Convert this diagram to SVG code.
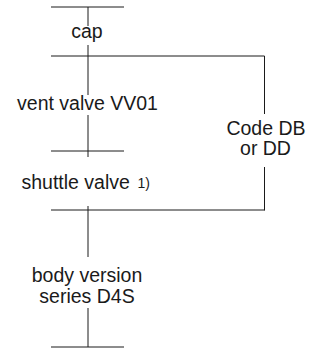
<svg xmlns="http://www.w3.org/2000/svg" width="323" height="348" viewBox="0 0 323 348">
<style>
.t{font-family:"Liberation Sans",Arial,sans-serif;font-size:19.5px;fill:#1a1a1a;text-anchor:middle}
.s{font-family:"Liberation Sans",Arial,sans-serif;font-size:14px;fill:#1a1a1a}
.c{stroke:#1a1a1a;stroke-width:1;fill:none}
</style>
<rect width="323" height="348" fill="#fff"/>
<g id="connectors" class="c">
<line x1="51" y1="7" x2="124" y2="7"/>
<line x1="88" y1="7" x2="88" y2="26"/>
<line x1="88" y1="45" x2="88" y2="95"/>
<line x1="51" y1="56" x2="264.5" y2="56"/>
<line x1="264.5" y1="56" x2="264.5" y2="114"/>
<line x1="88" y1="115" x2="88" y2="157"/>
<line x1="51" y1="151" x2="124" y2="151"/>
<line x1="264.5" y1="167" x2="264.5" y2="210.5"/>
<line x1="51" y1="210" x2="264.5" y2="210"/>
<line x1="88" y1="206" x2="88" y2="257"/>
<line x1="88" y1="308" x2="88" y2="347"/>
<line x1="51" y1="347" x2="124" y2="347"/>
</g>
<g id="cap"><text class="t" x="87" y="38">cap</text></g>
<g id="vent-valve"><text class="t" x="87.5" y="109.5">vent valve VV01</text></g>
<g id="code"><text class="t" x="266" y="134.5">Code DB</text><text class="t" x="265.5" y="154.5">or DD</text></g>
<g id="shuttle-valve"><text class="t" style="text-anchor:start" x="21.5" y="189">shuttle valve</text><text class="s" x="137.5" y="187.5">1)</text></g>
<g id="body-version"><text class="t" x="87" y="282">body version</text><text class="t" x="87" y="302.5">series D4S</text></g>
</svg>
